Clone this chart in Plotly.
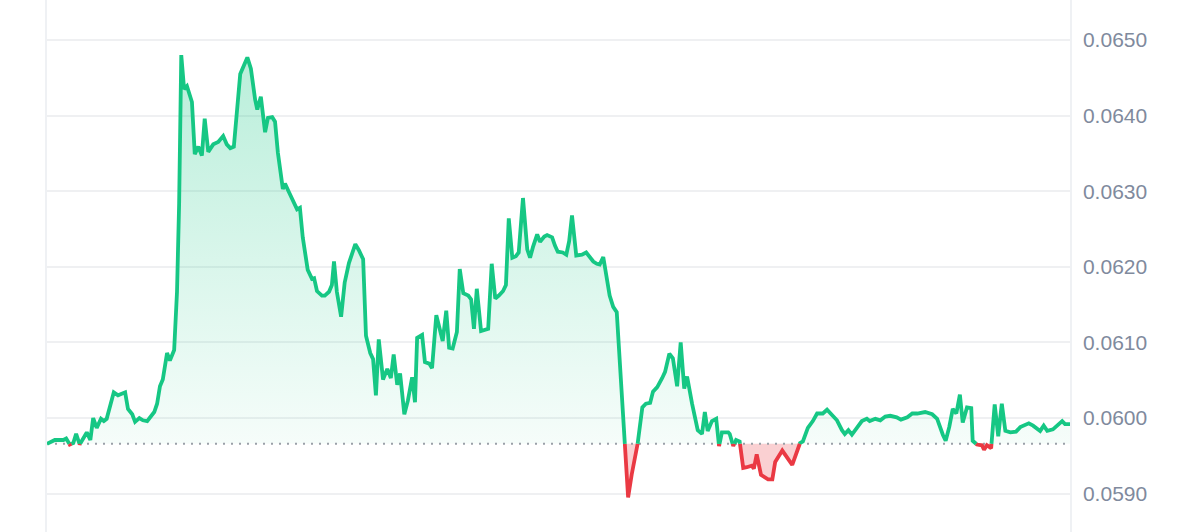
import plotly.graph_objects as go

# time in minutes from the start of the 24h window
minutes = [0,11,23,27,32,37,41,46,56,61,65,70,76,80,84,94,100,110,114,120,124,130,135,141,145,151,155,159,163,169,173,179,183,186,189,193,197,204,208,213,218,222,227,234,241,248,253,258,263,272,282,287,293,296,301,307,311,317,321,325,332,335,341,346,352,356,360,367,373,376,380,387,391,397,401,404,408,414,419,425,434,439,445,449,455,459,463,467,473,479,484,488,493,497,503,508,514,518,521,528,532,538,542,548,552,557,562,566,571,577,581,586,593,597,601,605,611,617,621,626,631,636,642,646,650,655,660,664,670,676,680,684,690,694,700,704,711,715,719,726,731,735,739,745,753,759,763,769,774,778,783,788,792,797,802,818,823,830,838,843,849,853,859,866,870,876,881,887,892,897,901,908,916,922,926,930,936,942,946,950,959,961,966,970,975,980,985,992,995,999,1005,1011,1015,1021,1025,1035,1042,1049,1060,1064,1071,1078,1084,1092,1098,1106,1112,1119,1123,1128,1133,1140,1147,1154,1158,1166,1173,1180,1187,1196,1202,1211,1218,1225,1236,1246,1253,1261,1265,1270,1275,1280,1285,1289,1295,1301,1303,1309,1316,1319,1323,1329,1334,1339,1344,1349,1356,1364,1370,1382,1388,1398,1403,1408,1416,1429,1433,1440]

# price (x 0.001)
price_milli = [59.66,59.71,59.71,59.73,59.65,59.67,59.79,59.65,59.81,59.71,60.00,59.87,59.99,59.96,59.99,60.34,60.30,60.34,60.12,60.05,59.95,60.00,59.97,59.96,60.01,60.08,60.19,60.42,60.51,60.86,60.76,60.90,61.67,62.84,64.80,64.35,64.39,64.18,63.49,63.59,63.47,63.96,63.52,63.62,63.65,63.73,63.62,63.57,63.59,64.55,64.77,64.62,64.21,64.08,64.25,63.78,63.97,63.98,63.92,63.51,63.03,63.10,62.98,62.89,62.76,62.78,62.39,61.96,61.84,61.85,61.68,61.62,61.62,61.67,61.76,62.07,61.67,61.34,61.79,62.05,62.30,62.22,62.10,61.09,60.86,60.78,60.30,61.04,60.51,60.65,60.53,60.84,60.44,60.59,60.05,60.23,60.54,60.21,61.06,61.10,60.74,60.72,60.66,61.36,61.20,61.02,61.42,60.93,60.92,61.14,61.97,61.65,61.62,61.57,61.18,61.71,61.15,61.17,61.18,62.04,61.58,61.62,61.68,61.76,62.64,62.12,62.14,62.19,62.91,62.23,62.12,62.26,62.43,62.33,62.40,62.42,62.39,62.28,62.20,62.19,62.16,62.34,62.68,62.15,62.16,62.19,62.14,62.07,62.04,62.03,62.13,61.85,61.62,61.47,61.40,58.95,59.25,59.56,60.14,60.19,60.20,60.35,60.41,60.53,60.61,60.85,60.79,60.42,61.00,60.39,60.55,60.19,59.84,59.79,60.08,59.83,59.96,59.99,59.63,59.81,59.81,59.79,59.63,59.71,59.69,59.34,59.35,59.37,59.33,59.52,59.25,59.22,59.19,59.19,59.42,59.57,59.47,59.38,59.67,59.69,59.87,59.96,60.06,60.06,60.11,60.03,59.97,59.84,59.79,59.84,59.78,59.87,59.96,59.99,59.96,59.99,59.97,60.02,60.03,60.01,59.98,60.01,60.06,60.06,60.08,60.05,59.99,59.78,59.70,59.88,60.12,60.06,60.31,59.94,60.14,60.13,59.70,59.65,59.64,59.58,59.64,59.60,60.18,59.76,60.19,59.83,59.81,59.82,59.88,59.93,59.90,59.83,59.90,59.83,59.85,59.96,59.92,59.92]

y_ticks = [0.0590, 0.0600, 0.0610, 0.0620, 0.0630, 0.0640, 0.0650]
y_tick_labels = ["0.0590", "0.0600", "0.0610", "0.0620", "0.0630", "0.0640", "0.0650"]

GREEN = "#16c784"
RED = "#ea3943"

prices = [p / 1000 for p in price_milli]
base = prices[0]

# split series at baseline crossings so the colours change exactly at the baseline
xs, ys = [minutes[0]], [prices[0]]
for i in range(1, len(prices)):
    x0, y0, x1, y1 = minutes[i - 1], prices[i - 1], minutes[i], prices[i]
    if (y0 - base) * (y1 - base) < 0:
        t = (base - y0) / (y1 - y0)
        xs.append(x0 + t * (x1 - x0))
        ys.append(base)
    xs.append(x1)
    ys.append(y1)

above = [max(v, base) for v in ys]
below = [min(v, base) for v in ys]
line_above = [v if v >= base else None for v in ys]
line_below = [v if v <= base else None for v in ys]

fig = go.Figure()

# baseline for green fill
fig.add_trace(go.Scatter(x=xs, y=[base] * len(xs), mode="lines",
                         line=dict(width=0, color="rgba(0,0,0,0)"), hoverinfo="skip", showlegend=False))
fig.add_trace(go.Scatter(x=xs, y=above, mode="lines", line=dict(width=0, color="rgba(0,0,0,0)"),
                         fill="tonexty",
                         fillgradient=dict(type="vertical", start=base, stop=max(prices),
                                           colorscale=[[0, "rgba(22,199,132,0.04)"],
                                                       [1, "rgba(22,199,132,0.30)"]]),
                         hoverinfo="skip", showlegend=False))
# baseline for red fill
fig.add_trace(go.Scatter(x=xs, y=[base] * len(xs), mode="lines",
                         line=dict(width=0, color="rgba(0,0,0,0)"), hoverinfo="skip", showlegend=False))
fig.add_trace(go.Scatter(x=xs, y=below, mode="lines", line=dict(width=0, color="rgba(0,0,0,0)"),
                         fill="tonexty", fillcolor="rgba(234,57,67,0.24)",
                         hoverinfo="skip", showlegend=False))

# dotted reference line
fig.add_trace(go.Scatter(x=[minutes[0], minutes[-1]], y=[base, base], mode="lines",
                         line=dict(color="#9aa0a8", width=2, dash="2px,6px"),
                         hoverinfo="skip", showlegend=False))

fig.add_trace(go.Scatter(x=xs, y=line_below, mode="lines", connectgaps=False,
                         line=dict(color=RED, width=3.8, shape="linear"), showlegend=False))
fig.add_trace(go.Scatter(x=xs, y=line_above, mode="lines", connectgaps=False,
                         line=dict(color=GREEN, width=3.8, shape="linear"), showlegend=False))

fig.update_layout(
    width=1200, height=532,
    margin=dict(l=47, r=130, t=0, b=0),
    paper_bgcolor="white", plot_bgcolor="white",
    font=dict(family="Liberation Sans, Arial, sans-serif"),
    xaxis=dict(range=[minutes[0], minutes[-1]], showgrid=False, zeroline=False,
               showticklabels=False, showline=False, fixedrange=True),
    yaxis=dict(side="right", range=[0.058493, 0.065529], tickvals=y_ticks, ticktext=y_tick_labels,
               showgrid=True, gridcolor="#eff0f2", gridwidth=1.5, zeroline=False,
               showline=True, linecolor="#eff1f4", linewidth=1.5, mirror=True,
               ticks="", ticklabelstandoff=7,
               tickfont=dict(size=21, color="#808a9d")),
)

fig.write_html("out.html", config={"displayModeBar": False},
               post_script="document.body.style.margin='0';")
